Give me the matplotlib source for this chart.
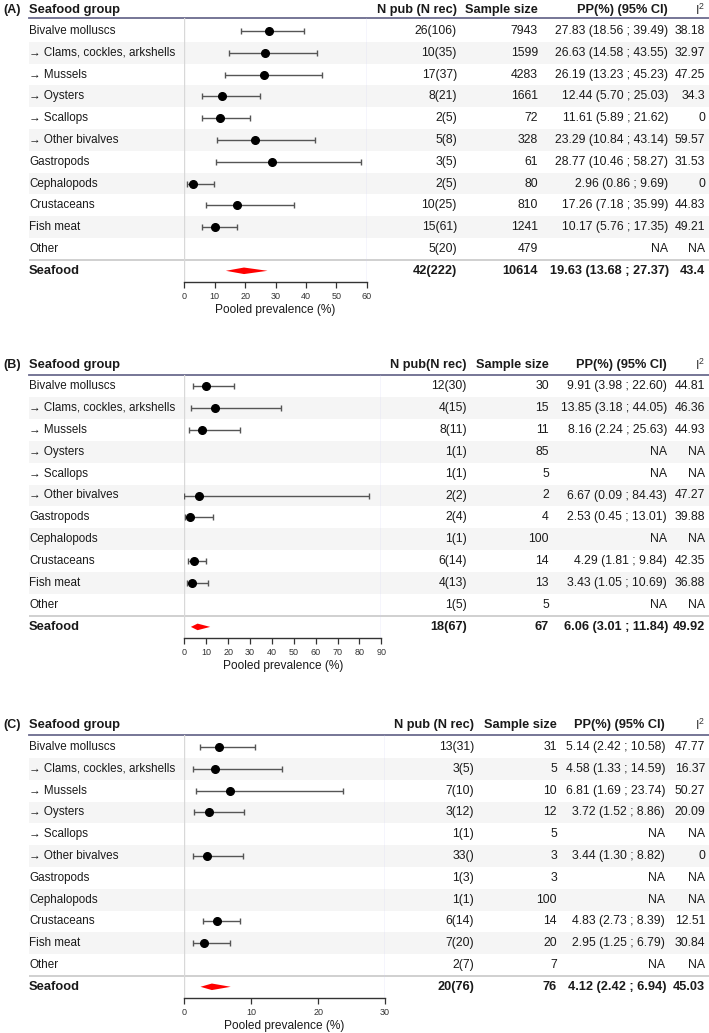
import numpy as np
import matplotlib.pyplot as plt

plt.rcParams['font.family'] = ['Liberation Sans', 'DejaVu Sans']

nan = np.nan

groups = ["Bivalve molluscs", "\u2192 Clams, cockles, arkshells", "\u2192 Mussels",
          "\u2192 Oysters", "\u2192 Scallops", "\u2192 Other bivalves", "Gastropods",
          "Cephalopods", "Crustaceans", "Fish meat", "Other"]

# panel A
npub_a = ["26(106)", "10(35)", "17(37)", "8(21)", "2(5)", "5(8)", "3(5)", "2(5)", "10(25)", "15(61)", "5(20)"]
nsize_a = [7943, 1599, 4283, 1661, 72, 328, 61, 80, 810, 1241, 479]
pp_a = [27.83, 26.63, 26.19, 12.44, 11.61, 23.29, 28.77, 2.96, 17.26, 10.17, nan]
lo_a = [18.56, 14.58, 13.23, 5.70, 5.89, 10.84, 10.46, 0.86, 7.18, 5.76, nan]
hi_a = [39.49, 43.55, 45.23, 25.03, 21.62, 43.14, 58.27, 9.69, 35.99, 17.35, nan]
i2_a = [38.18, 32.97, 47.25, 34.3, 0, 59.57, 31.53, 0, 44.83, 49.21, nan]
tot_a = ["42(222)", 10614, 19.63, 13.68, 27.37, 43.4]

# panel B
npub_b = ["12(30)", "4(15)", "8(11)", "1(1)", "1(1)", "2(2)", "2(4)", "1(1)", "6(14)", "4(13)", "1(5)"]
nsize_b = [30, 15, 11, 85, 5, 2, 4, 100, 14, 13, 5]
pp_b = [9.91, 13.85, 8.16, nan, nan, 6.67, 2.53, nan, 4.29, 3.43, nan]
lo_b = [3.98, 3.18, 2.24, nan, nan, 0.09, 0.45, nan, 1.81, 1.05, nan]
hi_b = [22.60, 44.05, 25.63, nan, nan, 84.43, 13.01, nan, 9.84, 10.69, nan]
i2_b = [44.81, 46.36, 44.93, nan, nan, 47.27, 39.88, nan, 42.35, 36.88, nan]
tot_b = ["18(67)", 67, 6.06, 3.01, 11.84, 49.92]

# panel C
npub_c = ["13(31)", "3(5)", "7(10)", "3(12)", "1(1)", "33()", "1(3)", "1(1)", "6(14)", "7(20)", "2(7)"]
nsize_c = [31, 5, 10, 12, 5, 3, 3, 100, 14, 20, 7]
pp_c = [5.14, 4.58, 6.81, 3.72, nan, 3.44, nan, nan, 4.83, 2.95, nan]
lo_c = [2.42, 1.33, 1.69, 1.52, nan, 1.30, nan, nan, 2.73, 1.25, nan]
hi_c = [10.58, 14.59, 23.74, 8.86, nan, 8.82, nan, nan, 8.39, 6.79, nan]
i2_c = [47.77, 16.37, 50.27, 20.09, nan, 0, nan, nan, 12.51, 30.84, nan]
tot_c = ["20(76)", 76, 4.12, 2.42, 6.94, 45.03]

W, H = 709, 1033
fig = plt.figure(figsize=(W / 100, H / 100), dpi=100)

TXT = '#1a1a1a'


def box(x0, x1, y0, y1):
    return [x0 / W, 1 - y1 / H, (x1 - x0) / W, (y1 - y0) / H]


def fmt_pp(p, l, h):
    if np.isnan(p):
        return "NA"
    return f"{p:.2f} ({l:.2f} ; {h:.2f})"


def fmt_i2(v):
    return "NA" if np.isnan(v) else f"{v:g}"


def panel(tag, npub_head, npub, nsize, pp, lo, hi, i2, tot, xmax, xticks, geo):
    top, row0, step, bottom, xend, head_y, cols = geo
    n = len(groups)
    ylim = ((bottom - row0) / step, (top - row0) / step)
    hy = (head_y - row0) / step

    bg = fig.add_axes(box(29, 709, top, bottom))
    bg.set_xlim(29, 709)
    bg.set_ylim(*ylim)
    bg.axis('off')
    for i in range(1, n, 2):
        bg.axhspan(i - 0.5, i + 0.5, color='#f5f5f5', lw=0)
    bg.axhline(n - 0.5, color='#c4c4c4', lw=1.1)
    bg.axhline(ylim[1], color='#6b6b8e', lw=1.3, clip_on=False)

    c1, c2, c3, c4 = cols
    fs = 8.8
    bg.text(3, hy, tag, fontsize=9, fontweight='bold', va='center', color=TXT)
    bg.text(29, hy, "Seafood group", fontsize=9.3, fontweight='bold', va='center', color=TXT)
    bg.text(c1, hy, npub_head, fontsize=9.2, fontweight='bold', va='center', ha='right', color=TXT)
    bg.text(c2, hy, "Sample size", fontsize=9.2, fontweight='bold', va='center', ha='right', color=TXT)
    bg.text(c3, hy, "PP(%) (95% CI)", fontsize=9.2, fontweight='bold', va='center', ha='right', color=TXT)
    bg.text(c4, hy, r"$\mathregular{I^2}$", fontsize=9, va='center', ha='right', color='#333333')

    for i, g in enumerate(groups):
        bg.text(29, i, g, fontsize=8.4, va='center', color=TXT)
        bg.text(c1, i, npub[i], fontsize=fs, va='center', ha='right', color=TXT)
        bg.text(c2, i, str(nsize[i]), fontsize=fs, va='center', ha='right', color=TXT)
        bg.text(c3, i, fmt_pp(pp[i], lo[i], hi[i]), fontsize=fs, va='center', ha='right', color=TXT)
        bg.text(c4, i, fmt_i2(i2[i]), fontsize=fs, va='center', ha='right', color=TXT)

    tp, tn, tpp, tlo, thi, ti2 = tot
    sfs = 9.2
    bg.text(29, n, "Seafood", fontsize=9.3, fontweight='bold', va='center', color=TXT)
    bg.text(c1, n, tp, fontsize=sfs, fontweight='bold', va='center', ha='right', color=TXT)
    bg.text(c2, n, str(tn), fontsize=sfs, fontweight='bold', va='center', ha='right', color=TXT)
    bg.text(c3 + 1, n, fmt_pp(tpp, tlo, thi), fontsize=sfs, fontweight='bold', va='center', ha='right', color=TXT)
    bg.text(c4, n, fmt_i2(ti2), fontsize=sfs, fontweight='bold', va='center', ha='right', color=TXT)

    fx = fig.add_axes(box(184.3, xend, top, bottom))
    fx.patch.set_visible(False)
    fx.set_xlim(0, xmax)
    fx.set_ylim(*ylim)
    fx.axvline(0, color='#d8d8d8', lw=1)
    fx.axvline(xmax, color='#cdd0f4', lw=1)
    for s in ['top', 'left', 'right']:
        fx.spines[s].set_visible(False)
    fx.spines['bottom'].set_color('#333333')
    fx.spines['bottom'].set_linewidth(1)
    fx.set_yticks([])
    fx.set_xticks(xticks)
    fx.tick_params(axis='x', direction='out', length=4, width=0.9, color='#333333',
                   labelsize=6.5, labelcolor='#333333', pad=3.5)
    fx.set_xlabel("Pooled prevalence (%)", fontsize=8.6, color=TXT, labelpad=2)

    pp = np.array(pp)
    lo = np.array(lo)
    hi = np.array(hi)
    y = np.arange(n)
    ok = ~np.isnan(pp)
    fx.errorbar(pp[ok], y[ok], xerr=[pp[ok] - lo[ok], hi[ok] - pp[ok]], fmt='o',
                color='black', ecolor='#555555', elinewidth=1, capsize=2.3, capthick=1,
                markersize=5.5, zorder=3)
    fx.fill([tlo, tpp, thi, tpp], [n, n - 0.15, n, n + 0.15], color='#ff0000', lw=0, zorder=3)


panel("(A)", "N pub (N rec)", npub_a, nsize_a, pp_a, lo_a, hi_a, i2_a, tot_a,
      60, np.arange(0, 61, 10), (18, 31, 21.8, 282, 366.7, 10, (457, 538, 668, 705)))
panel("(B)", "N pub(N rec)", npub_b, nsize_b, pp_b, lo_b, hi_b, i2_b, tot_b,
      90, np.arange(0, 91, 10), (375, 386, 21.9, 638, 381.3, 365, (467, 549, 667, 705)))
panel("(C)", "N pub (N rec)", npub_c, nsize_c, pp_c, lo_c, hi_c, i2_c, tot_c,
      30, np.arange(0, 31, 10), (735, 747, 21.8, 998, 385, 725, (474, 557, 665, 705)))

fig.savefig("out.png", dpi=100)
